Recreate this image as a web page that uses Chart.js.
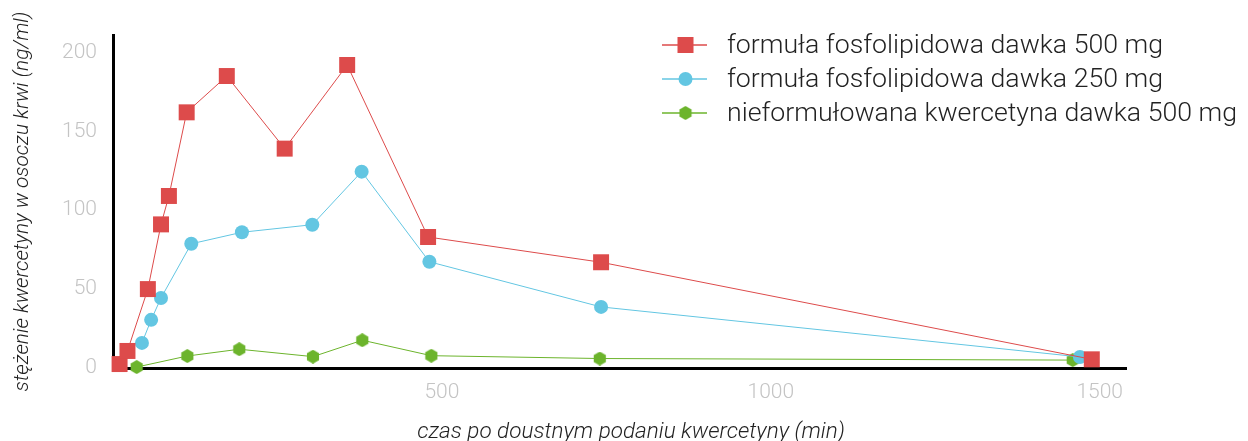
<!DOCTYPE html>
<html>
<head>
<meta charset="utf-8">
<script src="https://cdn.jsdelivr.net/npm/chart.js@4.4.1/dist/chart.umd.min.js"></script>
<style>
  html, body { margin: 0; padding: 0; background: #fff; }
  #wrap { width: 1248px; height: 441px; position: relative; }
</style>
</head>
<body>
<div id="wrap"><canvas id="pkChart"></canvas></div>
<script>
// time after oral dose (min) and plasma concentration (ng/ml)
const labels = [
  'formuła fosfolipidowa dawka 500 mg',
  'formuła fosfolipidowa dawka 250 mg',
  'nieformułowana kwercetyna dawka 500 mg'
];

const phos500Time = [10, 22, 53, 73, 85, 112, 173, 261, 356, 479, 742, 1488];
const phos500Conc = [2.5, 10.8, 50, 91, 109, 162, 185, 139, 192, 83, 67, 5.5];

const phos250Time = [44, 58, 73, 119, 196, 303, 378, 481, 742, 1470];
const phos250Conc = [15.9, 30.5, 44.4, 78.7, 86, 90.8, 124.4, 67.3, 38.7, 7];

const plainTime = [36, 113, 192, 304, 379, 484, 740, 1459];
const plainConc = [0.6, 7.6, 11.9, 7.2, 17.6, 7.8, 6, 5];

const xTicks = [500, 1000, 1500];
const yTicks = [0, 50, 100, 150, 200];

const xTitle = 'czas po doustnym podaniu kwercetyny (min)';
const yTitle = 'stężenie kwercetyny w osoczu krwi (ng/ml)';

const red = '#dd4b4b';
const blue = '#63c6e2';
const green = '#6cb42c';

function toPoints(xs, ys) {
  return xs.map((x, i) => ({ x: x, y: ys[i] }));
}

// hexagon marker, chart.js has none built in
function hexagon(color, size) {
  const c = document.createElement('canvas');
  c.width = size;
  c.height = size;
  const g = c.getContext('2d');
  const r = size / 2;
  g.fillStyle = color;
  g.beginPath();
  for (let i = 0; i < 6; i++) {
    const a = Math.PI / 2 + i * Math.PI / 3;
    const px = r + r * Math.cos(a);
    const py = r + r * Math.sin(a);
    if (i === 0) g.moveTo(px, py); else g.lineTo(px, py);
  }
  g.closePath();
  g.fill();
  return c;
}
const hex = hexagon(green, 14);

const legendPlugin = {
  id: 'lineLegend',
  afterDraw(chart) {
    const ctx = chart.ctx;
    const x0 = 662, x1 = 707, tx = 727;
    const rows = [45, 79, 113];
    ctx.save();
    chart.data.datasets.forEach((ds, i) => {
      const y = rows[i];
      ctx.strokeStyle = ds.borderColor;
      ctx.lineWidth = 1.5;
      ctx.beginPath();
      ctx.moveTo(x0, y);
      ctx.lineTo(x1, y);
      ctx.stroke();
      const cx = (x0 + x1) / 2 + 1;
      ctx.fillStyle = ds.pointBackgroundColor;
      if (ds.pointStyle === 'rect') {
        ctx.fillRect(cx - 8, y - 8, 16, 16);
      } else if (ds.pointStyle === 'circle') {
        ctx.beginPath();
        ctx.arc(cx, y, 7, 0, Math.PI * 2);
        ctx.fill();
      } else {
        ctx.drawImage(ds.pointStyle, cx - 7, y - 7);
      }
      ctx.fillStyle = '#222';
      ctx.font = '300 26.7px Roboto';
      ctx.textBaseline = 'middle';
      ctx.fillText(ds.label, tx, y + 1);
    });

    // x axis title sits a little right of the plot centre
    ctx.fillStyle = '#222';
    ctx.font = 'italic 300 22.5px Roboto';
    ctx.textAlign = 'center';
    ctx.textBaseline = 'middle';
    ctx.fillText(xTitle, 631, 432);
    ctx.restore();
  }
};

new Chart(document.getElementById('pkChart'), {
  type: 'line',
  data: {
    datasets: [
      {
        label: labels[0],
        data: toPoints(phos500Time, phos500Conc),
        borderColor: red,
        backgroundColor: red,
        pointBackgroundColor: red,
        pointBorderWidth: 0,
        pointStyle: 'rect',
        pointRadius: 11.3,
        borderWidth: 1,
        clip: false
      },
      {
        label: labels[1],
        data: toPoints(phos250Time, phos250Conc),
        borderColor: blue,
        backgroundColor: blue,
        pointBackgroundColor: blue,
        pointBorderWidth: 0,
        pointStyle: 'circle',
        pointRadius: 7,
        borderWidth: 1,
        clip: false
      },
      {
        label: labels[2],
        data: toPoints(plainTime, plainConc),
        borderColor: green,
        backgroundColor: green,
        pointBackgroundColor: green,
        pointBorderWidth: 0,
        pointStyle: hex,
        pointRadius: 7,
        borderWidth: 1,
        clip: false
      }
    ]
  },
  options: {
    responsive: true,
    maintainAspectRatio: false,
    animation: false,
    layout: { padding: { top: 35, right: 122, left: 0, bottom: 0 } },
    plugins: {
      legend: { display: false },
      tooltip: { enabled: false }
    },
    scales: {
      x: {
        type: 'linear',
        min: 0,
        max: 1540,
        afterBuildTicks: s => { s.ticks = xTicks.map(v => ({ value: v })); },
        afterFit: s => { s.height = 73; },
        grid: { display: false, drawTicks: false },
        border: { color: '#000', width: 3 },
        ticks: {
          padding: 12,
          color: '#c4c4c4',
          callback: v => String(v),
          font: { family: 'Roboto', size: 21, weight: '300' }
        },
        title: { display: false }
      },
      y: {
        min: 0,
        max: 211,
        afterBuildTicks: s => { s.ticks = yTicks.map(v => ({ value: v })); },
        afterFit: s => { s.width = 113; },
        grid: { display: false, drawTicks: false },
        border: { color: '#000', width: 3 },
        ticks: {
          padding: 16,
          color: '#c4c4c4',
          callback: v => String(v),
          font: { family: 'Roboto', size: 21, weight: '300' }
        },
        title: {
          display: true,
          text: yTitle,
          color: '#222',
          padding: { top: 10 },
          font: { family: 'Roboto', size: 20.8, style: 'italic', weight: '300' }
        }
      }
    }
  },
  plugins: [legendPlugin]
});
</script>
</body>
</html>
